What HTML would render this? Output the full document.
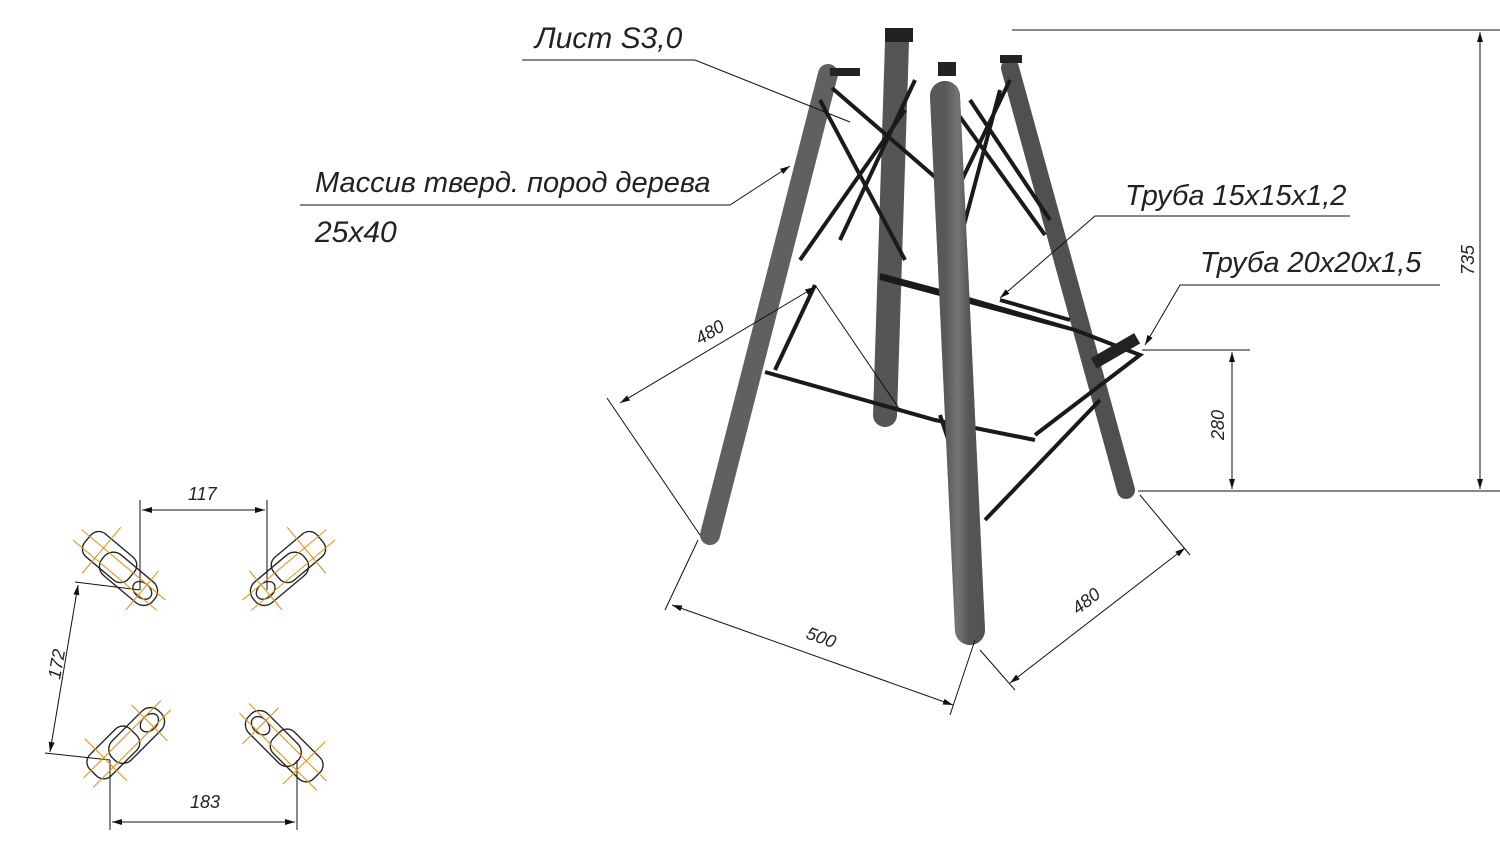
<!DOCTYPE html>
<html><head><meta charset="utf-8"><style>
html,body{margin:0;padding:0;background:#fff;width:1500px;height:857px;overflow:hidden}
text{font-family:"Liberation Sans",sans-serif;font-style:italic;fill:#222}
</style></head><body>
<svg width="1500" height="857" viewBox="0 0 1500 857" xmlns="http://www.w3.org/2000/svg">
<defs>
<marker id="a" markerWidth="10" markerHeight="6" refX="10" refY="3" orient="auto-start-reverse" markerUnits="userSpaceOnUse"><path d="M0,0 L10,3 L0,6z" fill="#111"/></marker>
<linearGradient id="w" x1="0" x2="1"><stop offset="0" stop-color="#444"/><stop offset=".5" stop-color="#8a8a8a"/><stop offset="1" stop-color="#3a3a3a"/></linearGradient>
<g id="ft" fill="none" stroke="#222" stroke-width="0.9">
<rect x="-28" y="-12" width="38" height="20" rx="7"/>
<rect x="-12" y="-8" width="44" height="18" rx="8"/>
<ellipse cx="22" cy="1" rx="7" ry="5"/>
<g stroke="#e0901a" stroke-width="0.7"><line x1="-35" y1="-4" x2="38" y2="-4"/><line x1="-35" y1="5" x2="38" y2="5"/><line x1="-16" y1="-22" x2="-16" y2="18"/><line x1="22" y1="-16" x2="22" y2="18"/></g>
</g>
</defs>
<g stroke-linecap="round">
<line x1="897" y1="42" x2="885" y2="415" stroke="#555" stroke-width="24"/>
<line x1="1010" y1="68" x2="1126" y2="490" stroke="#505050" stroke-width="18"/>
<line x1="828" y1="74" x2="710" y2="535" stroke="#606060" stroke-width="20"/>
</g>
<g stroke="#1a1a1a" stroke-width="4" fill="none">
<path d="M832 88 L950 190 M840 240 L915 80 M800 260 L905 110 M820 100 L905 260"/>
<path d="M955 110 L1045 235 M1000 90 L960 240 M970 100 L1050 220 M1010 80 L945 215"/>
<path d="M880 275 L955 295 L1075 330 M765 372 L935 420 L1035 440 M815 285 L775 370 M880 278 L1075 330 L1140 355 L1035 435"/>
<path d="M1000 300 L1070 320 M940 415 L975 520 M1100 400 L985 520"/>
</g>
<rect x="1090" y="345" width="50" height="12" fill="#222" transform="rotate(-30 1115 350)"/>
<line x1="945" y1="96" x2="970" y2="630" stroke="url(#w)" stroke-width="30" stroke-linecap="round"/>
<line x1="945" y1="96" x2="970" y2="630" stroke="#666" stroke-width="30" stroke-linecap="round" opacity=".6"/>
<g fill="#222"><rect x="885" y="28" width="28" height="14"/><rect x="938" y="62" width="18" height="14"/><rect x="830" y="68" width="30" height="8"/><rect x="1000" y="55" width="22" height="8"/></g>
<g stroke="#111" stroke-width="1" fill="none">
<path d="M522 60 L695 60 L850 122"/>
<path d="M300 205 L730 205 L790 166" marker-end="url(#a)"/>
<path d="M1095 216 L1350 216 L1095 216 L1000 298" marker-end="url(#a)"/>
<path d="M1440 285 L1180 285 L1145 345" marker-end="url(#a)"/>
<path d="M1012 30 L1500 30 M1138 491 L1500 491"/>
<line x1="1480" y1="32" x2="1480" y2="489" marker-start="url(#a)" marker-end="url(#a)"/>
<path d="M1142 350 L1250 350"/>
<line x1="1232" y1="352" x2="1232" y2="489" marker-start="url(#a)" marker-end="url(#a)"/>
<path d="M607 398 L700 535 M815 285 L900 410"/>
<line x1="620" y1="403" x2="815" y2="287" marker-start="url(#a)" marker-end="url(#a)"/>
<path d="M698 540 L665 610 M975 640 L950 715"/>
<line x1="672" y1="605" x2="953" y2="705" marker-start="url(#a)" marker-end="url(#a)"/>
<path d="M980 650 L1015 690 M1140 495 L1190 555"/>
<line x1="1010" y1="683" x2="1185" y2="548" marker-start="url(#a)" marker-end="url(#a)"/>
<path d="M140 500 L140 590 M267 500 L267 590"/>
<line x1="142" y1="510" x2="265" y2="510" marker-start="url(#a)" marker-end="url(#a)"/>
<path d="M75 582 L140 590 M45 753 L110 760"/>
<line x1="78" y1="585" x2="50" y2="752" marker-start="url(#a)" marker-end="url(#a)"/>
<path d="M110 760 L110 830 M297 760 L297 830"/>
<line x1="112" y1="822" x2="295" y2="822" marker-start="url(#a)" marker-end="url(#a)"/>
</g>
<use href="#ft" transform="translate(118,568) rotate(40) scale(1.5)"/>
<use href="#ft" transform="translate(290,568) rotate(140) scale(1.5,-1.5)"/>
<use href="#ft" transform="translate(125,745) rotate(-45) scale(1.5)"/>
<use href="#ft" transform="translate(285,748) rotate(-135) scale(1.5,-1.5)"/>
<text x="535" y="48" font-size="30">Лист S3,0</text>
<text x="315" y="192" font-size="29">Массив тверд. пород дерева</text>
<text x="315" y="242" font-size="30">25x40</text>
<text x="1125" y="205" font-size="29">Труба 15x15x1,2</text>
<text x="1200" y="272" font-size="29">Труба 20x20x1,5</text>
<text font-size="18" transform="translate(1474,275) rotate(-90)">735</text>
<text font-size="18" transform="translate(1224,440) rotate(-90)">280</text>
<text font-size="18" transform="translate(700,345) rotate(-31)">480</text>
<text font-size="18" transform="translate(805,638) rotate(20)">500</text>
<text font-size="18" transform="translate(1078,615) rotate(-38)">480</text>
<text x="188" y="500" font-size="18">117</text>
<text font-size="18" transform="translate(60,680) rotate(-80)">172</text>
<text x="190" y="808" font-size="18">183</text>
</svg>
</body></html>
